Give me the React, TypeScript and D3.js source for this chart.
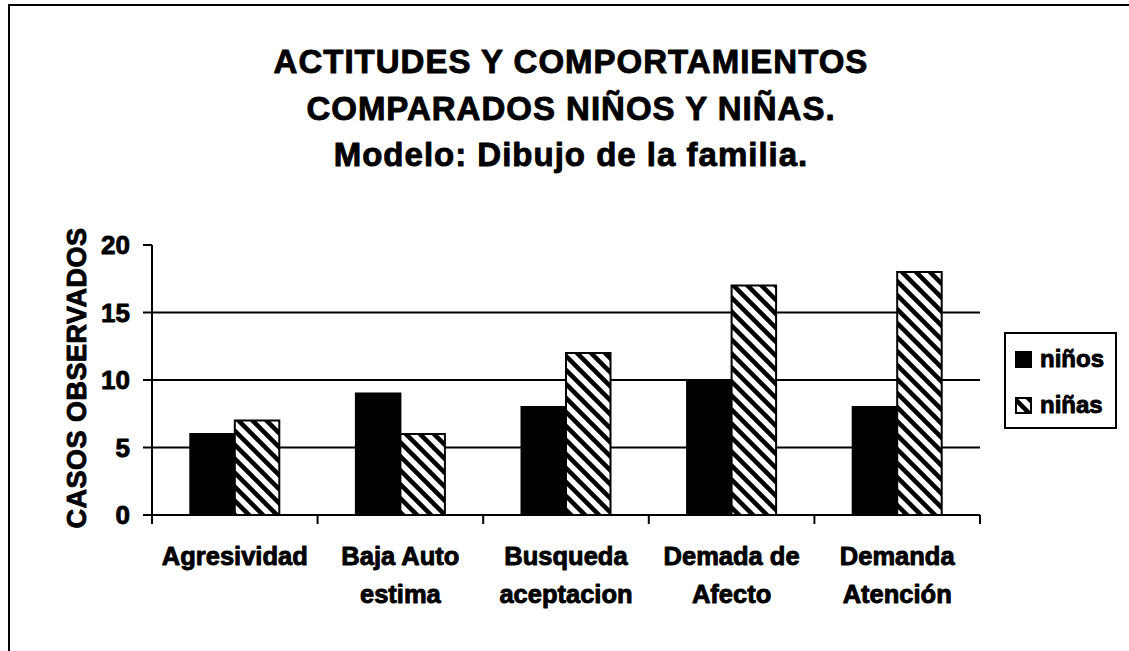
import React from "react";
import * as d3 from "d3";

const titleLines = [
  "ACTITUDES Y COMPORTAMIENTOS",
  "COMPARADOS NIÑOS Y NIÑAS.",
  "Modelo: Dibujo de la familia.",
];
const categories = ["Agresividad", "Baja Auto estima", "Busqueda aceptacion", "Demada de Afecto", "Demanda Atención"];
const categoryLabelLines = [
  ["Agresividad"],
  ["Baja Auto", "estima"],
  ["Busqueda", "aceptacion"],
  ["Demada de", "Afecto"],
  ["Demanda", "Atención"],
];
const seriesNames = ["niños", "niñas"];
const ninos = [6, 9, 8, 10, 8];
const ninas = [7, 6, 12, 17, 18];
const yTicks = [0, 5, 10, 15, 20];
const yAxisTitle = "CASOS OBSERVADOS";

const FONT = "'Liberation Sans', Arial, sans-serif";

export default function App() {
  const W = 1129;
  const H = 651;
  const left = 152;
  const right = 980;
  const top = 245;
  const bottom = 515;

  const y = d3.scaleLinear().domain([0, 20]).range([bottom, top]);
  const p = 1 - 89 / ((right - left) / categories.length);
  const x0 = d3
    .scaleBand<string>()
    .domain(categories)
    .range([left, right])
    .paddingInner(p)
    .paddingOuter(p / 2);
  const x1 = d3.scaleBand<string>().domain(seriesNames).range([0, x0.bandwidth()]);
  const step = x0.step();
  const boundaries = d3.range(categories.length + 1).map((i) => left + i * step);

  const values = [ninos, ninas];
  const fills = ["#000", "url(#hatch)"];
  const heavy = { stroke: "#000", strokeWidth: 0.9, strokeLinejoin: "round" as const };

  return (
    <svg
      width={W}
      height={H}
      style={{ position: "absolute", left: 0, top: 0, background: "#fff" }}
      fontFamily={FONT}
    >
      <defs>
        <pattern id="hatch" patternUnits="userSpaceOnUse" width={14} height={14}>
          <rect width={14} height={14} fill="#fff" />
          <path d="M-2,-2 L16,16 M-9,5 L2,16 M5,-9 L16,2" stroke="#000" strokeWidth={4.5} />
        </pattern>
      </defs>
      <rect x={0} y={0} width={W} height={H} fill="#fff" />
      <rect x={9} y={5} width={W + 20} height={H + 20} fill="none" stroke="#000" strokeWidth={2} />

      {titleLines.map((t, i) => (
        <text
          key={i}
          x={571}
          y={73 + i * 46.5}
          textAnchor="middle"
          fontSize={33}
          fontWeight="bold"
          letterSpacing={1}
          {...heavy}
        >
          {t}
        </text>
      ))}

      {/* gridlines */}
      {yTicks
        .filter((v) => v > 0 && v < 20)
        .map((v) => (
          <line key={v} x1={left} x2={right} y1={y(v)} y2={y(v)} stroke="#000" strokeWidth={2} />
        ))}
      {/* y ticks */}
      {yTicks.map((v) => (
        <g key={v}>
          <line x1={left - 9} x2={left} y1={y(v)} y2={y(v)} stroke="#000" strokeWidth={2} />
          <text x={130} y={y(v) + 9} textAnchor="end" fontSize={26} fontWeight="bold" {...heavy}>
            {v}
          </text>
        </g>
      ))}

      {/* bars */}
      {categories.map((c, ci) => (
        <g key={c}>
          {seriesNames.map((s, si) => (
            <rect
              key={s}
              x={(x0(c) as number) + (x1(s) as number)}
              y={y(values[si][ci])}
              width={x1.bandwidth()}
              height={bottom - y(values[si][ci])}
              fill={fills[si]}
              stroke="#000"
              strokeWidth={2}
            />
          ))}
        </g>
      ))}

      {/* axes */}
      <line x1={left} x2={left} y1={top} y2={bottom} stroke="#000" strokeWidth={2} />
      <line x1={left} x2={right} y1={bottom} y2={bottom} stroke="#000" strokeWidth={2} />
      {boundaries.map((bx, i) => (
        <line key={i} x1={bx} x2={bx} y1={bottom} y2={bottom + 9} stroke="#000" strokeWidth={2} />
      ))}

      {/* category labels */}
      {categories.map((c, ci) => (
        <text
          key={c}
          x={(x0(c) as number) + x0.bandwidth() / 2}
          y={565}
          textAnchor="middle"
          fontSize={25.5}
          fontWeight="bold"
          {...heavy}
        >
          {categoryLabelLines[ci].map((ln, li) => (
            <tspan key={li} x={(x0(c) as number) + x0.bandwidth() / 2} dy={li === 0 ? 0 : 38}>
              {ln}
            </tspan>
          ))}
        </text>
      ))}

      {/* y axis title */}
      <text
        transform={`translate(86,${(top + bottom) / 2 - 2}) rotate(-90)`}
        textAnchor="middle"
        fontSize={27}
        fontWeight="bold"
        letterSpacing={0.5}
        {...heavy}
      >
        {yAxisTitle}
      </text>

      {/* legend */}
      <rect x={1005} y={333} width={111} height={95} fill="#fff" stroke="#000" strokeWidth={2} />
      {seriesNames.map((s, si) => (
        <g key={s}>
          <rect
            x={1016}
            y={352 + si * 46}
            width={15}
            height={15}
            fill={fills[si]}
            stroke="#000"
            strokeWidth={2}
          />
          <text x={1040} y={367 + si * 46} fontSize={24} fontWeight="bold" {...heavy}>
            {s}
          </text>
        </g>
      ))}
    </svg>
  );
}
